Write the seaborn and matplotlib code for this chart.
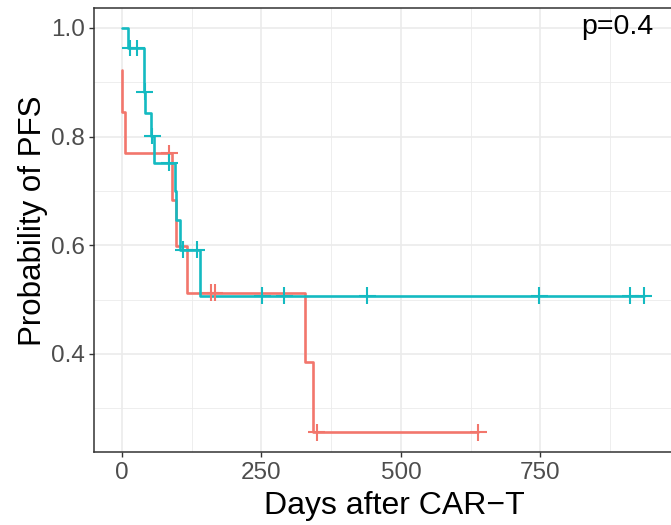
import matplotlib
matplotlib.use("Agg")
import matplotlib.pyplot as plt
import seaborn as sns
import pandas as pd

# Kaplan-Meier steps (days, survival after the step)
red_time = [0, 1, 5, 90, 97, 116, 329, 343, 639]
red_surv = [0.923, 0.846, 0.769, 0.684, 0.598, 0.513, 0.385, 0.256, 0.256]
red_cens_time = [85, 159, 167, 349, 639]
red_cens_surv = [0.769, 0.513, 0.513, 0.256, 0.256]

teal_time = [0, 11, 40, 42, 52, 58, 95, 98, 104, 140, 935]
teal_surv = [1.0, 0.963, 0.883, 0.843, 0.801, 0.752, 0.700, 0.647, 0.592, 0.507, 0.507]
teal_cens_time = [15, 27, 41, 55, 85, 110, 135, 252, 291, 440, 748, 911, 935]
teal_cens_surv = [0.963, 0.963, 0.883, 0.801, 0.752, 0.592, 0.592,
                  0.507, 0.507, 0.507, 0.507, 0.507, 0.507]

x_ticks = [0, 250, 500, 750]
y_ticks = [0.4, 0.6, 0.8, 1.0]
x_range_max = 978  # time axis runs past the last censor (panel is cropped on the right)
pval_text = "p=0.4"

colors = {"1": "#F2766C", "2": "#14BAC1"}

curves = pd.concat([
    pd.DataFrame({"time": red_time, "surv": red_surv, "group": "1"}),
    pd.DataFrame({"time": teal_time, "surv": teal_surv, "group": "2"}),
])
censors = pd.concat([
    pd.DataFrame({"time": red_cens_time, "surv": red_cens_surv, "group": "1"}),
    pd.DataFrame({"time": teal_cens_time, "surv": teal_cens_surv, "group": "2"}),
])

sns.set_theme(style="white")
plt.rcParams["font.family"] = ["Liberation Sans", "DejaVu Sans"]

fig = plt.figure(figsize=(6.71, 5.25), dpi=100)
# right edge of the panel falls outside the image, like the reference crop
ax = fig.add_axes([0.1408, 0.1383, 0.895, 0.8469])

sns.lineplot(data=curves, x="time", y="surv", hue="group", hue_order=["1", "2"],
             palette=colors, drawstyle="steps-post", estimator=None, sort=False,
             legend=False, lw=1.9, ax=ax)
sns.scatterplot(data=censors, x="time", y="surv", hue="group", hue_order=["1", "2"],
                palette=colors, marker="+", s=144, linewidth=1.5,
                legend=False, ax=ax, zorder=3)

ymin = min(min(red_surv), min(teal_surv))
ax.set_xlim(-0.05 * x_range_max, 1.05 * x_range_max)
ax.set_ylim(ymin - 0.05 * (1 - ymin), 1 + 0.05 * (1 - ymin))

ax.set_xticks(x_ticks)
ax.set_yticks(y_ticks)
ax.set_yticklabels([f"{v:.1f}" for v in y_ticks])
ax.set_xticks([125, 375, 625, 875], minor=True)
ax.set_yticks([0.3, 0.5, 0.7, 0.9], minor=True)

ax.grid(which="major", color="#EBEBEB", lw=1.2)
ax.grid(which="minor", color="#EBEBEB", lw=0.6)
ax.set_axisbelow(True)
ax.tick_params(which="major", length=3.8, width=1, color="#333333",
               labelsize=17.5, labelcolor="#4D4D4D", pad=3, direction="out",
               bottom=True, left=True)
ax.tick_params(which="minor", length=0)
for s in ax.spines.values():
    s.set_color("#333333")
    s.set_linewidth(1.1)

ax.set_xlabel("Days after CAR\u2212T", fontsize=23, color="black", labelpad=5)
ax.set_ylabel("Probability of PFS", fontsize=22.5, color="black", labelpad=2)
ax.yaxis.label.set_y(0.52)

ax.text(823, 1.026, pval_text, ha="left", va="top", fontsize=20.5, color="black")

fig.savefig("out.png", dpi=100)
